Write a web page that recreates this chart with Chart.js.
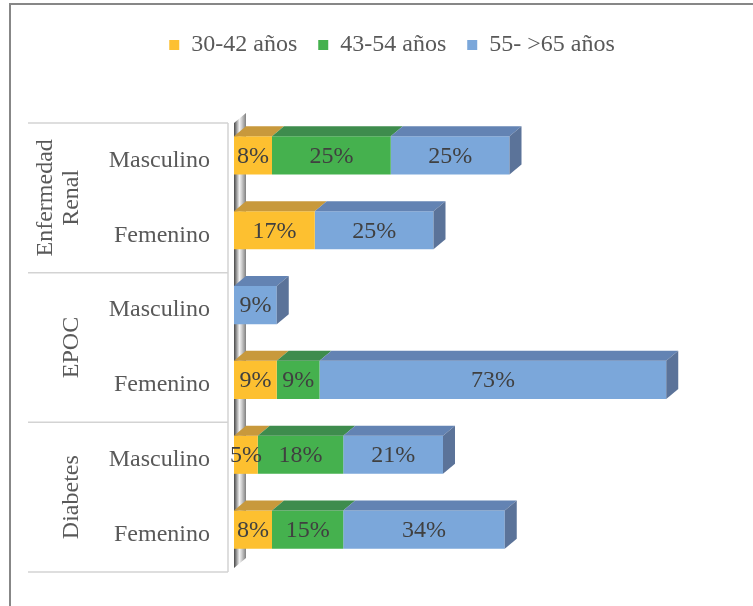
<!DOCTYPE html>
<html>
<head>
<meta charset="utf-8">
<script src="https://cdn.jsdelivr.net/npm/chart.js@4.4.0/dist/chart.umd.min.js"></script>
<style>
  html, body { margin: 0; padding: 0; background: #fff; }
  #wrap { position: relative; width: 753px; height: 606px; overflow: hidden; }
  #frame { position: absolute; left: 9px; top: 3px; width: 760px; height: 620px;
           border-top: 2px solid #878787; border-left: 2px solid #878787; }
  canvas { position: absolute; left: 0; top: 0; }
</style>
</head>
<body>
<div id="wrap">
  <div id="frame"></div>
  <canvas id="chart" width="753" height="606"></canvas>
</div>
<script>
const categories = ['Masculino', 'Femenino', 'Masculino', 'Femenino', 'Masculino', 'Femenino'];
const groups = [['Enfermedad', 'Renal'], ['EPOC'], ['Diabetes']];
const seriesNames = ['30-42 años', '43-54 años', '55- >65 años'];
const age30to42 = [8, 17, 0, 9, 5, 8];
const age43to54 = [25, 0, 0, 9, 18, 15];
const age55to65 = [25, 25, 9, 73, 21, 34];

const FRONT = ['#FDC030', '#45B14E', '#7BA7DA'];
const TOP   = ['#C8993C', '#3E8C4D', '#6383B3'];
const SIDE  = '#5B7399';
const SERIF = "'Liberation Serif', 'Times New Roman', serif";
const DX = 12, DY = 10, SHIFT = -5;

// fake 3D: back wall, top/side faces, value labels
const bar3d = {
    id: 'bar3d',
    beforeDatasetsDraw(chart) {
        const { ctx, chartArea: a } = chart;
        const g = ctx.createLinearGradient(a.left, 0, a.left + DX, 0);
        g.addColorStop(0, '#474747');
        g.addColorStop(0.45, '#f2f2f2');
        g.addColorStop(0.6, '#d8d8d8');
        g.addColorStop(1, '#808080');
        ctx.save();
        ctx.fillStyle = g;
        ctx.beginPath();
        ctx.moveTo(a.left, a.bottom - 4);
        ctx.lineTo(a.left + DX, a.bottom - 4 - DY);
        ctx.lineTo(a.left + DX, a.top - 10);
        ctx.lineTo(a.left, a.top);
        ctx.closePath();
        ctx.fill();
        ctx.restore();
        ctx.save();
        ctx.translate(0, SHIFT);
    },
    afterDatasetsDraw(chart) {
        const ctx = chart.ctx;
        const sets = chart.data.datasets;
        for (let r = 0; r < chart.data.labels.length; r++) {
            let last = null;
            sets.forEach((ds, di) => {
                if (!ds.data[r]) return;
                const el = chart.getDatasetMeta(di).data[r];
                const { x, base, y, height } = el.getProps(['x', 'base', 'y', 'height'], true);
                const top = y - height / 2;
                ctx.fillStyle = TOP[di];
                ctx.beginPath();
                ctx.moveTo(base, top);
                ctx.lineTo(base + DX, top - DY);
                ctx.lineTo(x + DX, top - DY);
                ctx.lineTo(x, top);
                ctx.closePath();
                ctx.fill();
                last = { x, top, height };
            });
            if (last) {
                ctx.fillStyle = SIDE;
                ctx.beginPath();
                ctx.moveTo(last.x, last.top);
                ctx.lineTo(last.x + DX, last.top - DY);
                ctx.lineTo(last.x + DX, last.top - DY + last.height);
                ctx.lineTo(last.x, last.top + last.height);
                ctx.closePath();
                ctx.fill();
            }
        }
        ctx.font = '24px ' + SERIF;
        ctx.fillStyle = '#404040';
        ctx.textAlign = 'center';
        ctx.textBaseline = 'middle';
        sets.forEach((ds, di) => {
            chart.getDatasetMeta(di).data.forEach((el, r) => {
                if (!ds.data[r]) return;
                const { x, base, y } = el.getProps(['x', 'base', 'y'], true);
                ctx.fillText(ds.data[r] + '%', (x + base) / 2, y + 1);
            });
        });
        ctx.restore();
    },
    afterDraw(chart) {
        const ctx = chart.ctx;
        const ys = chart.scales.y;
        const step = ys.getPixelForValue(1) - ys.getPixelForValue(0);
        const edges = [0, 2, 4, 6].map(i => ys.getPixelForValue(i) - step / 2);
        const lineX = chart.chartArea.left - 6;
        ctx.save();
        ctx.strokeStyle = '#d3d3d3';
        ctx.lineWidth = 1.5;
        ctx.beginPath();
        edges.forEach(e => { ctx.moveTo(28, e); ctx.lineTo(lineX, e); });
        ctx.moveTo(lineX, edges[0]);
        ctx.lineTo(lineX, edges[3]);
        ctx.stroke();

        ctx.font = '24px ' + SERIF;
        ctx.fillStyle = '#595959';
        ctx.textAlign = 'center';
        ctx.textBaseline = 'middle';
        groups.forEach((lines, g) => {
            const cy = (edges[g] + edges[g + 1]) / 2;
            const cx = lines.length > 1 ? 59 : 72;
            ctx.save();
            ctx.translate(cx, cy);
            ctx.rotate(-Math.PI / 2);
            lines.forEach((t, i) => {
                ctx.fillText(t, 0, (i - (lines.length - 1) / 2) * 26);
            });
            ctx.restore();
        });
        ctx.restore();
    }
};

new Chart(document.getElementById('chart'), {
    type: 'bar',
    data: {
        labels: categories,
        datasets: [age30to42, age43to54, age55to65].map((vals, i) => ({
            label: seriesNames[i],
            data: vals,
            backgroundColor: FRONT[i],
            borderWidth: 0,
            categoryPercentage: 1,
            barPercentage: 0.51
        }))
    },
    options: {
        indexAxis: 'y',
        responsive: false,
        devicePixelRatio: 1,
        animation: false,
        layout: { padding: { left: 37, right: 6, top: 12, bottom: 34 } },
        plugins: {
            legend: {
                position: 'top',
                labels: { boxWidth: 10, boxHeight: 10, padding: 21, color: '#595959', font: { family: SERIF, size: 24 } }
            },
            tooltip: { enabled: false }
        },
        scales: {
            x: {
                stacked: true, min: 0, max: 108, position: 'top',
                grid: { display: false, drawTicks: false }, border: { display: false },
                ticks: { display: false },
                afterFit: s => { s.height = 56; }
            },
            y: {
                stacked: true,
                grid: { display: false, drawTicks: true, tickLength: 24 }, border: { display: false },
                ticks: { padding: 0, color: '#595959', font: { family: SERIF, size: 24 } },
                afterFit: s => { s.width = 197; }
            }
        }
    },
    plugins: [bar3d]
});
</script>
</body>
</html>
